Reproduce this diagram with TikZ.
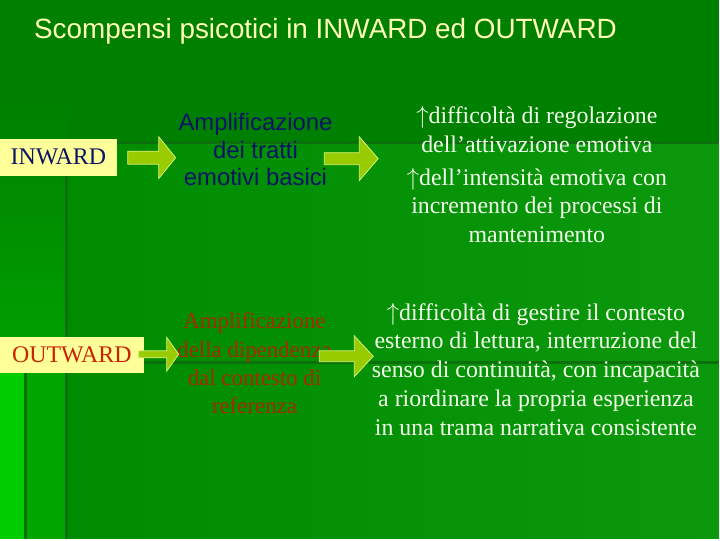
\documentclass[tikz,border=0pt]{standalone}
\usepackage{fontspec}
\setmainfont{Liberation Serif}
\setsansfont{Liberation Sans}
\usetikzlibrary{positioning}
\definecolor{bgdark}{HTML}{008000}
\definecolor{bgmid}{HTML}{008C00}
\definecolor{bgright}{HTML}{0C980C}
\definecolor{bgleft}{HTML}{00B800}
\definecolor{bgbright}{HTML}{00CC00}
\definecolor{bgstrip}{HTML}{00A600}
\definecolor{rule}{HTML}{0C700C}
\definecolor{pale}{HTML}{FFFF99}
\definecolor{navy}{HTML}{0A1466}
\definecolor{rust}{HTML}{A82A00}
\definecolor{brick}{HTML}{CC2200}
\definecolor{ink}{HTML}{F2FFEA}
\definecolor{lime}{HTML}{99CC00}
\definecolor{limeedge}{HTML}{D4F27A}
\tikzset{every node/.style={inner sep=0pt}}
\tikzset{lbl/.style={fill=pale,font=\fontsize{24}{28}\selectfont}}
\tikzset{mid/.style={align=center}}
\tikzset{res/.style={align=center,text=ink,font=\fontsize{24}{29}\selectfont}}
\tikzset{barrow/.style={fill=lime,draw=limeedge,line width=0.8pt,line join=miter}}
% block arrow: tail x, head x, tip x, y, shaft half, head half
\newcommand{\blockarrow}[6]{%
  \draw[barrow] (#1,#4-#5) -- (#2,#4-#5) -- (#2,#4-#6) -- (#3,#4)
    -- (#2,#4+#6) -- (#2,#4+#5) -- (#1,#4+#5) -- cycle;}

\begin{document}
\begin{tikzpicture}[x=1bp,y=-1bp]
      % background
      \fill[bgdark] (0,0) rectangle (720,540);
      \shade[top color=bgdark,bottom color=bgleft] (0,100) rectangle (67,540);
      \shade[left color=bgmid,right color=bgright] (67,143) rectangle (720,540);
      \fill[bgbright] (0,363) rectangle (26,540);
      \fill[bgstrip] (26,363) rectangle (67,540);
      \draw[rule,line width=3bp] (67,540) -- (67,143) -- (720,143);
      \draw[rule,line width=3bp] (26,540) -- (26,363) -- (720,363);
      \useasboundingbox (0,0) rectangle (720,540);

      \node[anchor=west,text=pale!70!white,font=\sffamily\fontsize{28}{32}\selectfont] (T) at (34,31) {Scompensi psicotici in INWARD ed OUTWARD};

      \node[lbl,text=navy,minimum width=117bp,minimum height=37bp] (I) at (58.5,157.5) {INWARD};
      \node[lbl,text=brick,minimum width=144bp,minimum height=36bp] (O) at (72,356) {OUTWARD};

      \node[mid,text=navy,font=\sffamily\fontsize{24}{27.5}\selectfont] (M1) at (256,150) {Amplificazione\\dei tratti\\emotivi basici};
      \node[mid,text=rust,font=\fontsize{23}{28.3}\selectfont] (M2) at (255,364) {Amplificazione\\della dipendenza\\dal contesto di\\referenza};

      \node[res] (R1) at (538,175) {$\uparrow$difficoltà di regolazione\\dell’attivazione emotiva\\[4bp]$\uparrow$dell’intensità emotiva con\\incremento dei processi di\\mantenimento};
      \node[res] (R2) at (537,370) {$\uparrow$difficoltà di gestire il contesto\\esterno di lettura, interruzione del\\senso di continuità, con incapacità\\a riordinare la propria esperienza\\in una trama narrativa consistente};

      \blockarrow{128}{159}{176}{158}{6.5}{21}
      \blockarrow{325}{360}{379}{159}{6}{22}
      \blockarrow{139}{167}{179}{355}{3.5}{17}
      \blockarrow{320}{355}{374}{357}{5.5}{20.5}
\end{tikzpicture}
\end{document}
